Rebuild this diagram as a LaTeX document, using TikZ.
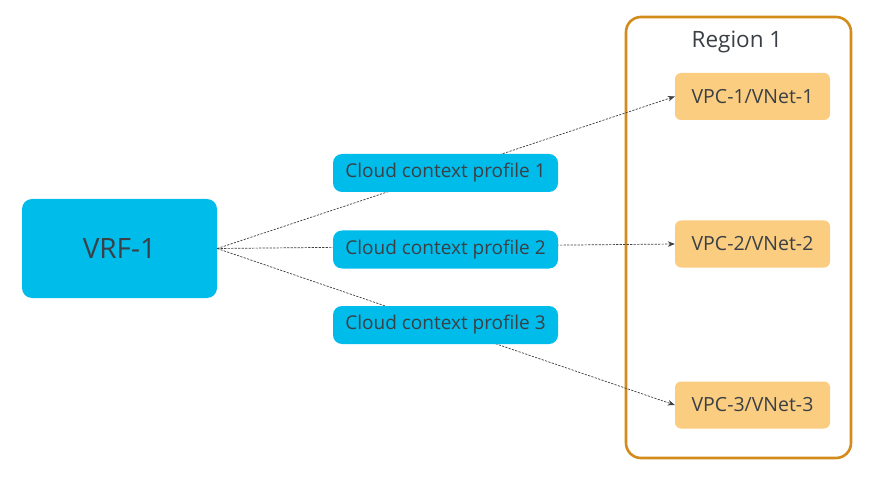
\documentclass[tikz,border=0pt]{standalone}
\usepackage{fontspec}
\setmainfont{Open Sans}
\usetikzlibrary{arrows.meta}
\definecolor{cyanbox}{HTML}{00BCEB}
\definecolor{vpcbox}{HTML}{FBCD80}
\definecolor{regionc}{HTML}{D38B1B}
\definecolor{txt}{HTML}{3A4045}
\definecolor{linec}{HTML}{404040}
\tikzset{
  px/.style={x=1pt,y=-1pt},
  cbox/.style={fill=cyanbox, rounded corners=10pt, text=txt, inner sep=0pt},
  vbox/.style={fill=vpcbox, rounded corners=6pt, text=txt, inner sep=0pt, minimum width=155pt, minimum height=47pt, font=\fontsize{19.5}{24}\selectfont},
  pbox/.style={cbox, rounded corners=9pt, minimum width=225pt, minimum height=38pt, font=\fontsize{19}{23}\selectfont},
  conn/.style={draw=linec, line width=0.7pt, dash pattern=on 2.2pt off 1.3pt, -{Stealth[length=7pt,width=5.5pt]}}
}
\begin{document}
\begin{tikzpicture}[px]
\useasboundingbox (0,0) rectangle (878,481);
\fill[white] (0,0) rectangle (878,481);
\node[cbox, minimum width=195pt, minimum height=99pt, font=\fontsize{28}{32}\selectfont] (vrf) at (119.5,248.5) {VRF-1};
\draw[regionc, line width=2.6pt, rounded corners=15pt] (626,17) rectangle (851,458);
\node[text=txt, font=\fontsize{22.5}{26}\selectfont] (reg) at (737,42) {Region 1};
\node[vbox] (v1) at (752.5,96.5) {VPC-1/VNet-1};
\node[vbox] (v2) at (752.5,244) {VPC-2/VNet-2};
\node[vbox] (v3) at (752.5,405) {VPC-3/VNet-3};
\draw[conn] (vrf.east) -- (v1.west);
\draw[conn] (vrf.east) -- (v2.west);
\draw[conn] (vrf.east) -- (v3.west);
\node[pbox] (p1) at (445.5,173) {Cloud context profile 1};
\node[pbox] (p2) at (445.5,249.5) {Cloud context profile 2};
\node[pbox] (p3) at (445.5,325) {Cloud context profile 3};
\end{tikzpicture}
\end{document}
